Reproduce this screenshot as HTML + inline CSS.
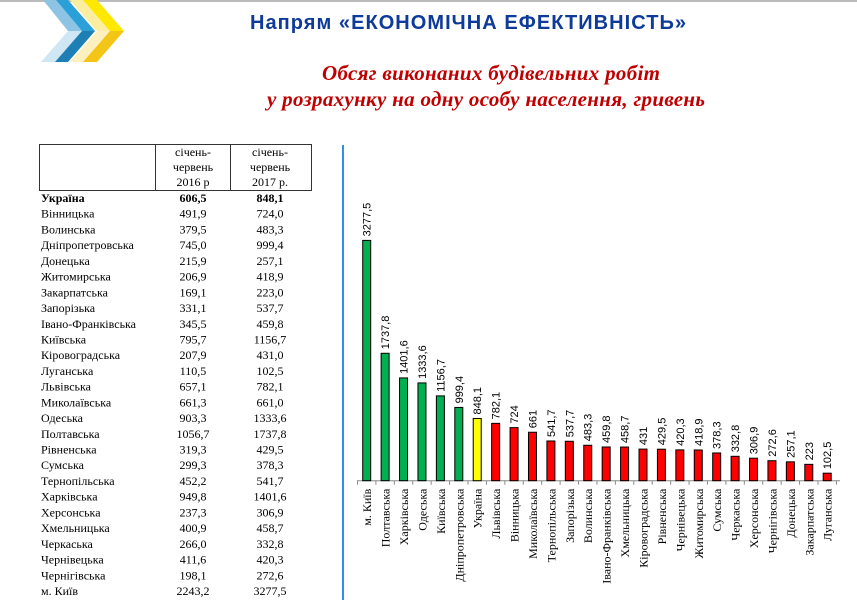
<!DOCTYPE html>
<html><head><meta charset="utf-8"><style>
body{margin:0;background:#fff;}
svg{display:block;}
</style></head><body>
<svg id="s" width="857" height="600" xmlns="http://www.w3.org/2000/svg">
<rect x="0" y="0" width="857" height="2" fill="#bbb"/>
<g>
<polygon points="43,0 56,0 82,31 68,31" fill="#8ec4e3"/>
<polygon points="56,0 68,0 95,31 82,31" fill="#2a9fd8"/>
<polygon points="41,62 55,62 82,31 68,31" fill="#cfe6f4"/>
<polygon points="55,62 68,62 95,31 82,31" fill="#1d7fb4"/>
<polygon points="70,0 83,0 110,31 97,31" fill="#fbeea0"/>
<polygon points="83,0 97,0 124,31 110,31" fill="#ffe800"/>
<polygon points="70,62 83,62 110,31 97,31" fill="#fdf0c0"/>
<polygon points="83,62 97,62 124,31 110,31" fill="#f3c516"/>
</g>
<text x="250" y="29" font-family="Liberation Sans, sans-serif" font-weight="bold" font-size="20" fill="#0e3a9a" textLength="436">Напрям «ЕКОНОМІЧНА ЕФЕКТИВНІСТЬ»</text>
<text x="322" y="80" font-family="Liberation Serif, serif" font-style="italic" font-weight="bold" font-size="21" fill="#c00000" textLength="338">Обсяг виконаних будівельних робіт</text>
<text x="267" y="106" font-family="Liberation Serif, serif" font-style="italic" font-weight="bold" font-size="21" fill="#c00000" textLength="438">у розрахунку на одну особу населення, гривень</text>
<g id="tbl" font-family="Liberation Serif, serif" font-size="12" fill="#000">
<rect x="39.5" y="144.5" width="272" height="46" fill="none" stroke="#333"/>
<line x1="155.5" y1="144" x2="155.5" y2="191" stroke="#333"/>
<line x1="230.5" y1="144" x2="230.5" y2="191" stroke="#333"/>
<text x="193" y="156" text-anchor="middle"><tspan x="193">січень-</tspan><tspan x="193" dy="15">червень</tspan><tspan x="193" dy="15">2016 р</tspan></text>
<text x="270" y="156" text-anchor="middle"><tspan x="270">січень-</tspan><tspan x="270" dy="15">червень</tspan><tspan x="270" dy="15">2017 р.</tspan></text>
</g>
<line x1="343" y1="145" x2="343" y2="600" stroke="#2e8ff0" stroke-width="2"/>
<g id="chart"></g>
</svg>
<script>
const tableNames=["Україна","Вінницька","Волинська","Дніпропетровська","Донецька","Житомирська","Закарпатська","Запорізька","Івано-Франківська","Київська","Кіровоградська","Луганська","Львівська","Миколаївська","Одеська","Полтавська","Рівненська","Сумська","Тернопільська","Харківська","Херсонська","Хмельницька","Черкаська","Чернівецька","Чернігівська","м. Київ"];
const table2016=["606,5","491,9","379,5","745,0","215,9","206,9","169,1","331,1","345,5","795,7","207,9","110,5","657,1","661,3","903,3","1056,7","319,3","299,3","452,2","949,8","237,3","400,9","266,0","411,6","198,1","2243,2"];
const table2017=["848,1","724,0","483,3","999,4","257,1","418,9","223,0","537,7","459,8","1156,7","431,0","102,5","782,1","661,0","1333,6","1737,8","429,5","378,3","541,7","1401,6","306,9","458,7","332,8","420,3","272,6","3277,5"];
const categories=["м. Київ","Полтавська","Харківська","Одеська","Київська","Дніпропетровська","Україна","Львівська","Вінницька","Миколаївська","Тернопільська","Запорізька","Волинська","Івано-Франківська","Хмельницька","Кіровоградська","Рівненська","Чернівецька","Житомирська","Сумська","Черкаська","Херсонська","Чернігівська","Донецька","Закарпатська","Луганська"];
const values=[3277.5,1737.8,1401.6,1333.6,1156.7,999.4,848.1,782.1,724,661,541.7,537.7,483.3,459.8,458.7,431,429.5,420.3,418.9,378.3,332.8,306.9,272.6,257.1,223,102.5];
const valueLabels=["3277,5","1737,8","1401,6","1333,6","1156,7","999,4","848,1","782,1","724","661","541,7","537,7","483,3","459,8","458,7","431","429,5","420,3","418,9","378,3","332,8","306,9","272,6","257,1","223","102,5"];
const groups=["high","high","high","high","high","high","avg","low","low","low","low","low","low","low","low","low","low","low","low","low","low","low","low","low","low","low"];
const NS="http://www.w3.org/2000/svg";
function mk(t,a,p){const e=document.createElementNS(NS,t);for(const k in a)e.setAttribute(k,a[k]);p.appendChild(e);return e;}
const tbl=document.getElementById('tbl');
for(let i=0;i<tableNames.length;i++){
  const y=202+i*15.72;
  const w=i===0?'bold':'normal';
  const r=mk('g',{},tbl);
  
  
  mk('text',{x:41,y:y,'font-weight':w},r).textContent=tableNames[i];
  mk('text',{x:193,y:y,'text-anchor':'middle','font-weight':w},r).textContent=table2016[i];
  mk('text',{x:270,y:y,'text-anchor':'middle','font-weight':w},r).textContent=table2017[i];
}
const ch=document.getElementById('chart');
const base=480.7, x0=366.7, step=18.42, bw=8;
const yScale=v=>base-v*(240.3/3277.5);
const xScale=i=>x0+i*step;
const colors={high:"#00b050",avg:"#ffff00",low:"#ff0000"};
const ax=mk('line',{x1:357,y1:base,x2:840,y2:base,stroke:'#888'},ch);


for(let i=0;i<=categories.length;i++){
  const tx=xScale(i)-step/2;
  mk('line',{x1:tx,y1:base,x2:tx,y2:base+4,stroke:'#888'},ch);
}
for(let i=0;i<categories.length;i++){
  const cx=xScale(i), top=yScale(values[i]);
  const b=mk('rect',{x:cx-bw/2,y:top,width:bw,height:base-top,fill:colors[groups[i]],stroke:'#000','stroke-width':1},ch);
  
  
  const v=mk('text',{x:0,y:0,transform:`translate(${cx+4},${top-4}) rotate(-90)`,'font-family':'Liberation Sans, sans-serif','font-size':'11',fill:'#000'},ch);
  v.textContent=valueLabels[i];
  
  
  const l=mk('text',{x:0,y:0,transform:`translate(${cx+4.5},${base+8}) rotate(-90)`,'text-anchor':'end','font-family':'Liberation Serif, serif','font-size':'12',fill:'#000'},ch);
  l.textContent=categories[i];
  
  
}
</script>
</body></html>
